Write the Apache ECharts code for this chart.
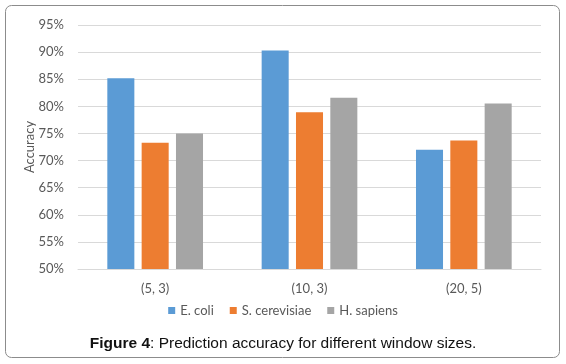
<!DOCTYPE html>
<html>
<head>
<meta charset="utf-8">
<script src="https://cdn.jsdelivr.net/npm/echarts@6/dist/echarts.min.js"></script>
<style>
  html, body { margin: 0; padding: 0; background: #fff; }
  #chart { width: 566px; height: 364px; }
</style>
</head>
<body>
<div id="chart"></div>
<script>
// categories and series values (accuracy in %)
const categories = ['(5, 3)', '(10, 3)', '(20, 5)'];
const ecoli = [85.2, 90.3, 72.0];
const scerevisiae = [73.3, 78.9, 73.7];
const hsapiens = [75.0, 81.6, 80.5];

const chart = echarts.init(document.getElementById('chart'));

const labelFont = 'Lato, "Open Sans", sans-serif';

const option = {
  animation: false,
  backgroundColor: '#fff',
  graphic: [{
    type: 'rect',
    shape: { x: 5.5, y: 5.5, width: 554, height: 352, r: 6 },
    style: { fill: 'none', stroke: '#8c8c8c', lineWidth: 1 },
    z: -1
  }],
  title: {
    text: '{b|Figure 4}: Prediction accuracy for different window sizes.',
    left: 'center',
    top: 331,
    textStyle: {
      fontFamily: '"Liberation Sans", Arial, sans-serif',
      fontSize: 15.5,
      fontWeight: 'normal',
      color: '#111',
      rich: {
        b: { fontFamily: '"Liberation Sans", Arial, sans-serif', fontSize: 15.5, fontWeight: 'bold', color: '#111' }
      }
    }
  },
  legend: {
    data: ['E. coli', 'S. cerevisiae', 'H. sapiens'],
    bottom: 42,
    left: 'center',
    itemWidth: 7,
    itemHeight: 7,
    itemGap: 16,
    icon: 'rect',
    textStyle: { color: '#595959', fontSize: 13, fontFamily: labelFont }
  },
  grid: { left: 78, right: 25, top: 25, bottom: 95 },
  xAxis: {
    type: 'category',
    data: categories,
    axisLine: { lineStyle: { color: '#d9d9d9' } },
    axisTick: { show: false },
    axisLabel: { color: '#595959', fontSize: 13, fontFamily: labelFont, margin: 13 }
  },
  yAxis: {
    type: 'value',
    min: 50,
    max: 95,
    interval: 5,
    name: 'Accuracy',
    nameLocation: 'middle',
    nameGap: 42,
    nameMoveOverlap: false,
    nameTextStyle: { color: '#595959', fontSize: 13, fontFamily: labelFont },
    axisLine: { show: false },
    axisTick: { show: false },
    splitLine: { lineStyle: { color: '#d9d9d9' } },
    axisLabel: { color: '#595959', fontSize: 13, fontFamily: labelFont, margin: 14, formatter: '{value}%' }
  },
  series: [
    { name: 'E. coli', type: 'bar', data: ecoli, itemStyle: { color: '#5b9bd5' }, barGap: '27%', barCategoryGap: '38%' },
    { name: 'S. cerevisiae', type: 'bar', data: scerevisiae, itemStyle: { color: '#ed7d31' } },
    { name: 'H. sapiens', type: 'bar', data: hsapiens, itemStyle: { color: '#a5a5a5' } }
  ]
};

chart.setOption(option);
</script>
</body>
</html>
